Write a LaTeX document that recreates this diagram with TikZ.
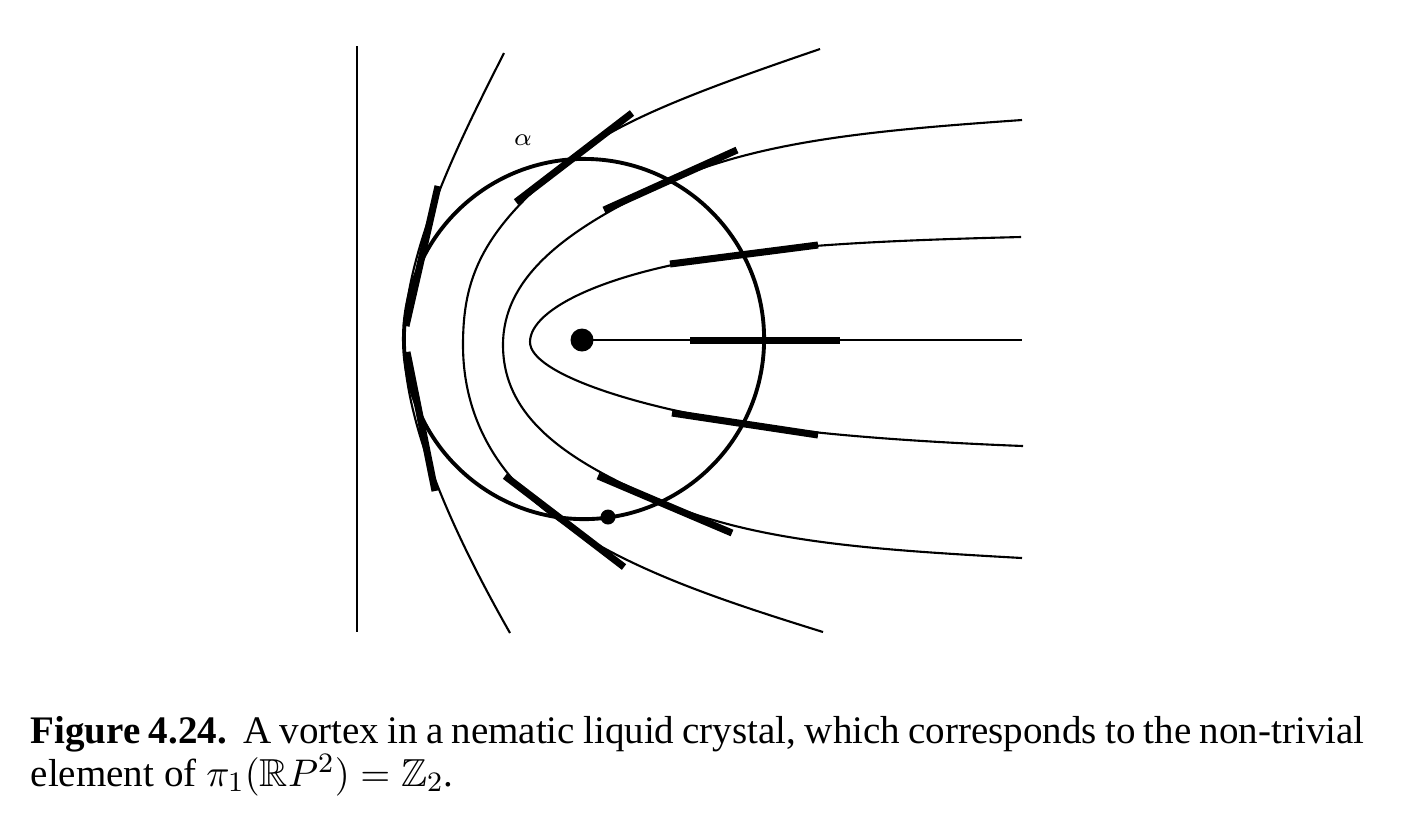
\documentclass[tikz,border=0pt]{standalone}
\usepackage{amsmath, amssymb}
\usepackage{fontspec}
\setmainfont{Liberation Serif}
\usepackage{tikz}

\begin{document}
\begin{tikzpicture}[x=0.01cm, y=-0.01cm,
	fieldline/.style={line width=0.6pt},
	director/.style={line width=2pt},
	loopline/.style={line width=1.1pt}]
	\useasboundingbox (0,0) rectangle (1404,814);

	\draw[line width=0.8pt] (357,46) -- (357,632);

	\coordinate (ctr) at (584,339);
	\draw[loopline] (ctr) circle [radius=1.8cm];

	\node (core) [circle, fill, inner sep=0, minimum size=0.23cm] at (582,340) {};
	\node (basept) [circle, fill, inner sep=0, minimum size=0.15cm] at (608,517) {};
	\node (alpha) at (523,140) {\fontsize{7.5}{9}\selectfont$\alpha$};

	\draw[fieldline] (504,53) .. controls (460,140) and (404,250) .. (404,342)
		.. controls (404,430) and (460,545) .. (510,633);
	\draw[fieldline] (820,49) .. controls (700,90) and (620,120) .. (572,158)
		.. controls (480,230) and (463,280) .. (463,345)
		.. controls (463,420) and (500,480) .. (560,521)
		.. controls (630,570) and (720,600) .. (823,632);
	\draw[fieldline] (1022,120) .. controls (880,130) and (761,140) .. (668,182)
		.. controls (560,231) and (503,280) .. (503,345)
		.. controls (503,420) and (571,463) .. (665,503)
		.. controls (760,543) and (880,550) .. (1022,558);
	\draw[fieldline] (1021,237) .. controls (900,240) and (817,244) .. (743,253)
		.. controls (610,270) and (530,308) .. (530,342)
		.. controls (530,374) and (641,408) .. (743,423)
		.. controls (820,435) and (920,442) .. (1023,446);
	\draw[fieldline] (core.center) -- (1022,340);

	\draw[director] (438,186) -- (406,326);
	\draw[director] (516,202) -- (632,113);
	\draw[director] (604,210) -- (737,150);
	\draw[director] (670,264) -- (818,245);
	\draw[director] (690,340) -- (840,340);
	\draw[director] (672,413) -- (818,435);
	\draw[director] (598,476) -- (732,533);
	\draw[director] (505,476) -- (624,567);
	\draw[director] (407,352) -- (435,491);

	\node (caption) [anchor=north west, inner sep=0, text width=13.33cm, align=justify] at (30,716)
		{\fontsize{11.1}{14}\selectfont\textbf{Figure 4.24.}\ \ A vortex in a nematic liquid crystal, which corresponds to the non-trivial\linebreak element of $\pi_1(\mathbb{R}P^2)=\mathbb{Z}_2$.};
\end{tikzpicture}
\end{document}
